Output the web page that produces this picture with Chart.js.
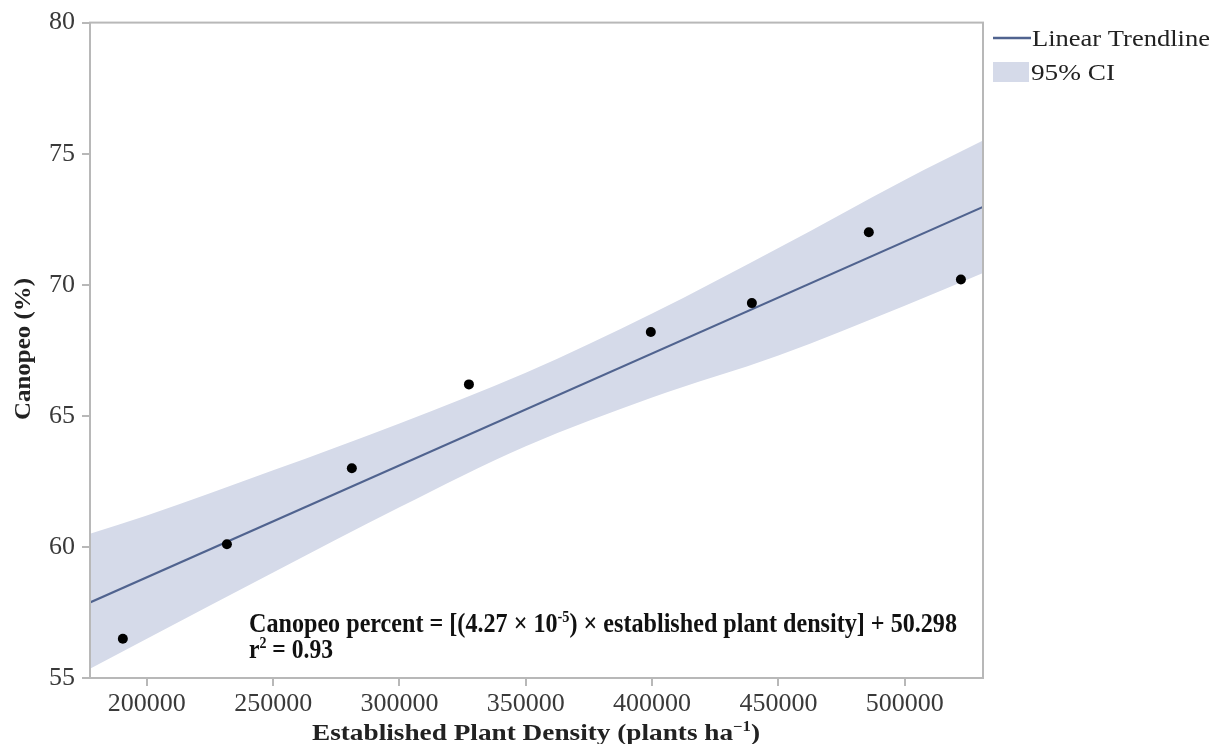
<!DOCTYPE html>
<html>
<head>
<meta charset="utf-8">
<script src="https://cdn.jsdelivr.net/npm/chart.js@4"></script>
<style>
  html, body { margin: 0; padding: 0; background: #fff; }
  #wrap { width: 1220px; height: 744px; }
</style>
</head>
<body>
<div id="wrap"><canvas id="chart" width="1220" height="744"></canvas></div>
<script>
// Canopeo vs established plant density, with linear fit and 95% CI band.
const densityX  = [190500, 231700, 281150, 327500, 399500, 439500, 485800, 522250];
const canopeoY  = [56.5, 60.1, 63.0, 66.2, 68.2, 69.3, 72.0, 70.2];

const trendX = [177500, 531000];
const trendY = [57.88, 72.97];

const bandX     = [177500, 200000, 250000, 300000, 350000, 400000, 450000, 500000, 531000];
const bandUpper = [60.50, 61.20, 62.92, 64.71, 66.64, 68.90, 71.40, 74.00, 75.50];
const bandLower = [55.35, 56.50, 59.02, 61.51, 63.84, 65.70, 67.30, 69.20, 70.45];

const xTicks = [200000, 250000, 300000, 350000, 400000, 450000, 500000];
const yTicks = [55, 60, 65, 70, 75, 80];

const trendColor = "#50638f";
const bandColor  = "#d5dae9";
const axisColor  = "#b8b8b8";
const serif = "'Liberation Serif', 'Times New Roman', serif";

const pts = (xs, ys) => xs.map((x, i) => ({ x, y: ys[i] }));

// draw a run of [text, isSuperscript] pieces, stretched to a target width
function drawRuns(ctx, runs, x, y, size, targetW) {
  const fontFor = sup => `bold ${sup ? Math.round(size * 0.6) : size}px ${serif}`;
  let w = 0;
  runs.forEach(([t, sup]) => { ctx.font = fontFor(sup); w += ctx.measureText(t).width; });
  const sx = targetW ? targetW / w : 1;
  ctx.save();
  ctx.translate(x, y);
  ctx.scale(sx, 1);
  let cx = 0;
  runs.forEach(([t, sup]) => {
    ctx.font = fontFor(sup);
    ctx.fillText(t, cx, sup ? -size * 0.38 : 0);
    cx += ctx.measureText(t).width;
  });
  ctx.restore();
}

const decor = {
  id: "decor",
  afterDraw(chart) {
    const { ctx, chartArea: a } = chart;
    ctx.save();
    // plot frame
    ctx.strokeStyle = axisColor;
    ctx.lineWidth = 2;
    ctx.strokeRect(a.left, a.top, a.right - a.left, a.bottom - a.top);

    ctx.fillStyle = "#111";
    ctx.textBaseline = "alphabetic";
    ctx.textAlign = "left";

    // equation annotation
    drawRuns(ctx, [["Canopeo percent = [(4.27 × 10", false], ["-5", true],
                   [") × established plant density] + 50.298", false]], 249, 632, 27, 708);
    drawRuns(ctx, [["r", false], ["2", true], [" = 0.93", false]], 249, 658, 27, 84);

    // axis titles
    ctx.fillStyle = "#222";
    drawRuns(ctx, [["Established Plant Density (plants ha", false], ["−1", true], [")", false]],
             312, 740, 23, 448);
    ctx.save();
    ctx.translate(30, 420);
    ctx.rotate(-Math.PI / 2);
    drawRuns(ctx, [["Canopeo (%)", false]], 0, 0, 23, 142);
    ctx.restore();

    // legend
    ctx.strokeStyle = trendColor;
    ctx.lineWidth = 2.5;
    ctx.beginPath();
    ctx.moveTo(993, 38);
    ctx.lineTo(1031, 38);
    ctx.stroke();
    ctx.fillStyle = bandColor;
    ctx.fillRect(993, 62, 36, 20);
    ctx.fillStyle = "#222";
    ctx.font = `23px ${serif}`;
    const lw = ctx.measureText("Linear Trendline").width;
    ctx.save();
    ctx.translate(1032, 46);
    ctx.scale(178 / lw, 1);
    ctx.fillText("Linear Trendline", 0, 0);
    ctx.restore();
    const cw = ctx.measureText("95% CI").width;
    ctx.save();
    ctx.translate(1031, 80);
    ctx.scale(84 / cw, 1);
    ctx.fillText("95% CI", 0, 0);
    ctx.restore();
    ctx.restore();
  },
};

new Chart(document.getElementById("chart"), {
  type: "scatter",
  data: {
    datasets: [
      {
        label: "Observed",
        data: pts(densityX, canopeoY),
        pointRadius: 5,
        pointBackgroundColor: "#000",
        pointBorderWidth: 0,
        showLine: false,
        order: 0,
      },
      {
        label: "Linear Trendline",
        data: pts(trendX, trendY),
        showLine: true,
        borderColor: trendColor,
        borderWidth: 2.2,
        pointRadius: 0,
        order: 1,
      },
      {
        label: "95% CI upper",
        data: pts(bandX, bandUpper),
        showLine: true,
        borderWidth: 0,
        pointRadius: 0,
        tension: 0.4,
        cubicInterpolationMode: "monotone",
        backgroundColor: bandColor,
        fill: "+1",
        order: 2,
      },
      {
        label: "95% CI lower",
        data: pts(bandX, bandLower),
        showLine: true,
        borderWidth: 0,
        pointRadius: 0,
        tension: 0.4,
        cubicInterpolationMode: "monotone",
        fill: false,
        order: 3,
      },
    ],
  },
  options: {
    responsive: false,
    animation: false,
    events: [],
    layout: { padding: { top: 18, right: 237, left: 0, bottom: 0 } },
    plugins: { legend: { display: false }, tooltip: { enabled: false } },
    scales: {
      x: {
        type: "linear",
        min: 177500,
        max: 531000,
        afterBuildTicks: s => { s.ticks = xTicks.map(v => ({ value: v })); },
        afterFit: s => { s.height = 66; },
        ticks: {
          font: { family: serif, size: 26 },
          color: "#3a3a3a",
          padding: 3,
          maxRotation: 0,
          autoSkip: false,
          callback: v => String(v),
        },
        grid: { drawOnChartArea: false, drawTicks: true, tickLength: 8, color: axisColor, lineWidth: 2 },
        border: { color: axisColor, width: 2 },
      },
      y: {
        type: "linear",
        min: 55,
        max: 80,
        afterBuildTicks: s => { s.ticks = yTicks.map(v => ({ value: v })); },
        afterFit: s => { s.width = 90; },
        ticks: {
          font: { family: serif, size: 26 },
          color: "#3a3a3a",
          padding: 7,
          callback: v => String(v),
        },
        grid: { drawOnChartArea: false, drawTicks: true, tickLength: 8, color: axisColor, lineWidth: 2 },
        border: { color: axisColor, width: 2 },
      },
    },
  },
  plugins: [decor],
});
</script>
</body>
</html>
